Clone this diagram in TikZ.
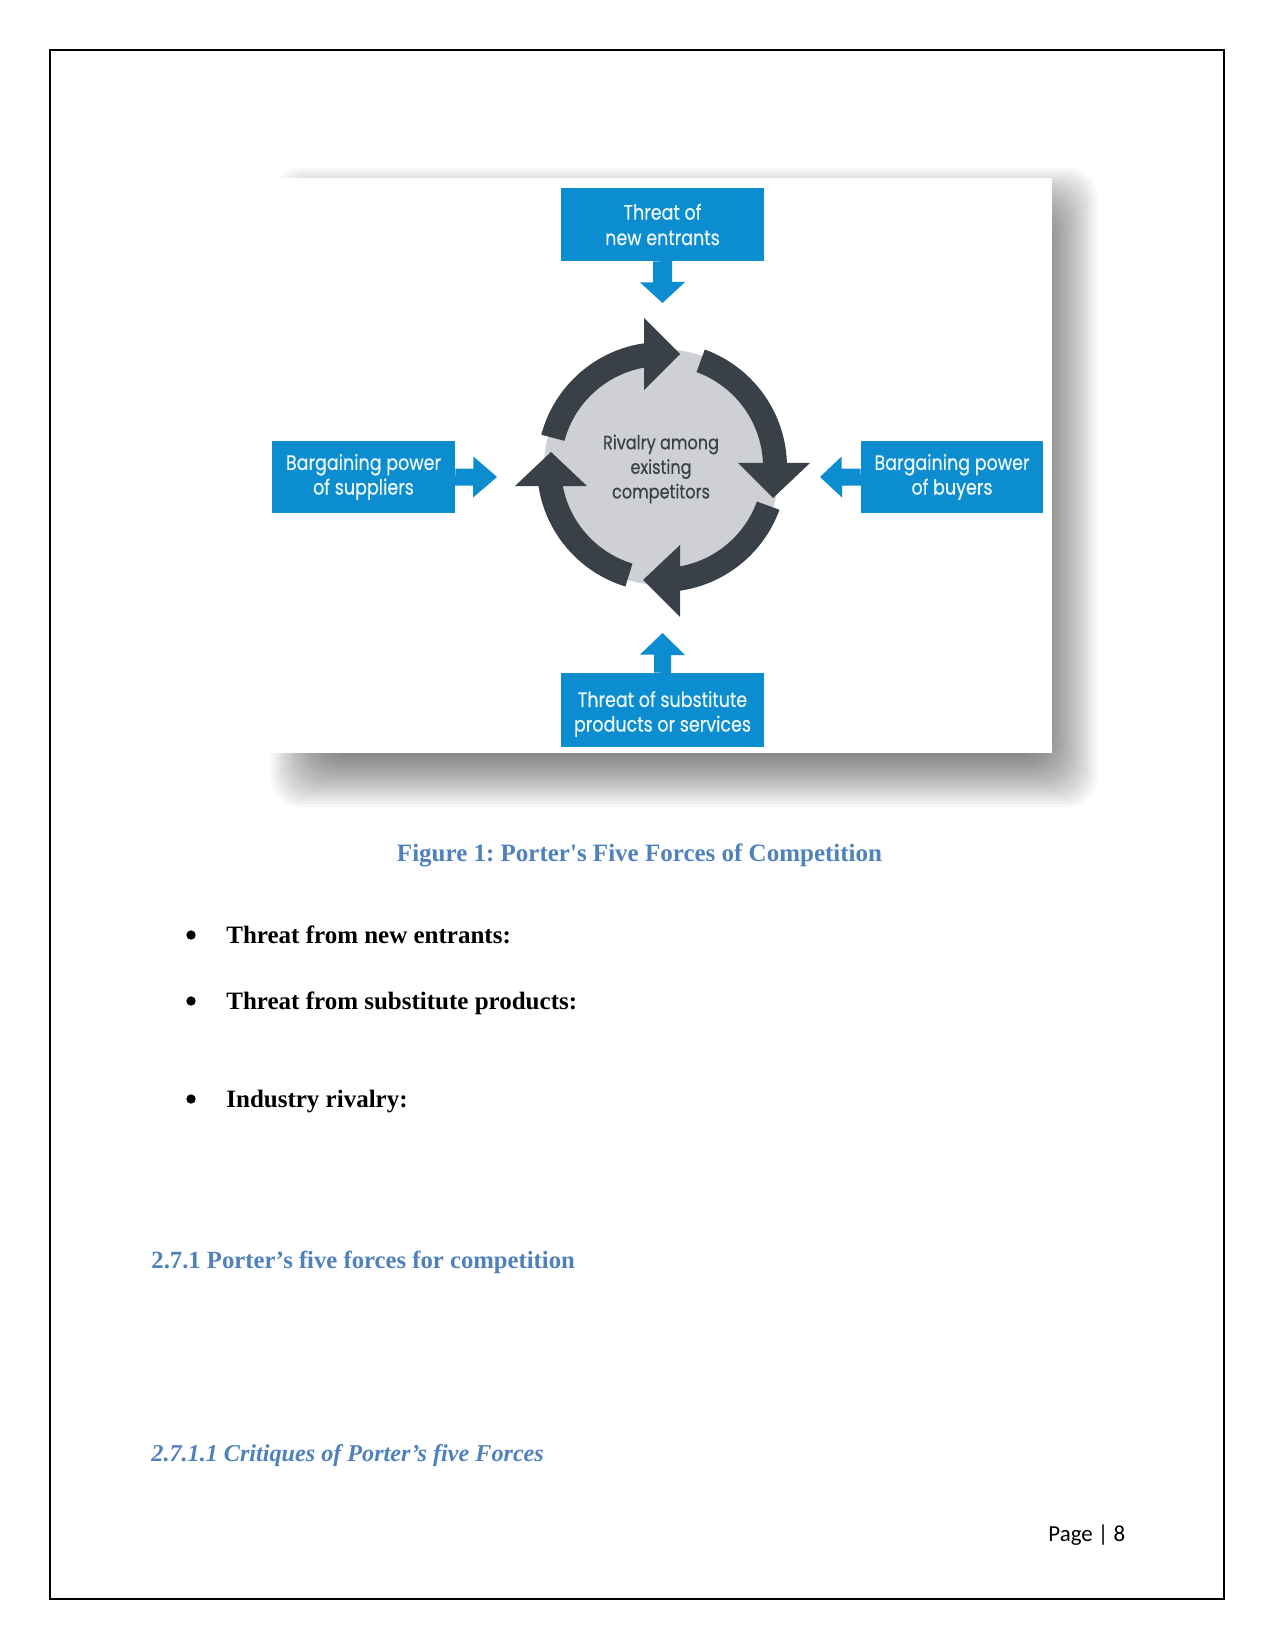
\documentclass[tikz,border=0pt]{standalone}
\usepackage{fontspec}
\setmainfont{Liberation Serif}
\newfontfamily\futura[FakeStretch=0.84,FakeBold=0.4]{Poppins}
\newfontfamily\calibri{Carlito}
\usetikzlibrary{calc}
\frenchspacing
\definecolor{pblue}{HTML}{0B8DCF}
\definecolor{ptext}{HTML}{EEF8FC}
\definecolor{ringdark}{HTML}{394047}
\definecolor{diskgray}{HTML}{CED0D3}
\definecolor{capblue}{HTML}{4F81BD}
\tikzset{
  forcebox/.style={fill=pblue, text=ptext, align=center, inner sep=0pt},
  boxfont/.style={font=\futura\fontsize{10}{11.8}\selectfont},
  boxlabel/.style={text=ptext, align=center, inner sep=0pt, font=\futura\fontsize{10}{11.8}\selectfont},
  blockarrow/.style={fill=pblue},
  ringarrow/.style={fill=ringdark},
  centertext/.style={text=ringdark, align=center, inner sep=0pt, font=\futura\fontsize{9.2}{11.8}\selectfont},
  captiontext/.style={text=capblue, font=\bfseries\fontsize{12}{14}\selectfont, inner sep=0pt, anchor=base},
  bullettext/.style={font=\bfseries\fontsize{12}{14}\selectfont, anchor=base west, inner sep=0pt},
  bulletdot/.style={circle, fill=black, minimum size=4.5pt, inner sep=0pt},
  headtext/.style={text=capblue, font=\bfseries\fontsize{11.85}{14}\selectfont, anchor=base west, inner sep=0pt},
  pagetext/.style={font=\calibri\fontsize{11}{13}\selectfont, anchor=base west, inner sep=0pt},
}
\begin{document}
\begin{tikzpicture}[x=0.48pt, y=-0.48pt]
\useasboundingbox (0,0) rectangle (1275,1650);
\fill[white] (0,0) rectangle (1275,1650);
% page border
\draw[line width=0.6pt] (50,50) rectangle (1224,1599);

% picture shadow
\foreach \e in {-27,-24,...,27} {
  \fill[black, opacity=0.03, rounded corners=14pt] ({298-\e},{195-\e}) rectangle ({1070+\e},{780+\e});
}
\fill[white] (262,178) rectangle (1052,753);

% rivalry ring
\begin{scope}[shift={(662,467)}, yscale=-1]
  \fill[diskgray] (0,0) circle[radius=118];
  % arrow 1 (upper left, head at top pointing right)
  \fill[ringarrow] (165:125) arc[start angle=165, end angle=97, radius=125] -- (97:101) arc[start angle=97, end angle=165, radius=101] -- cycle;
  \fill[ringarrow] (-18,149) -- (18,113) -- (-18,77) -- cycle;
  % arrow 2 (upper right, head at right pointing down)
  \fill[ringarrow] (70:125) arc[start angle=70, end angle=0, radius=125] -- (0:101) arc[start angle=0, end angle=70, radius=101] -- cycle;
  \fill[ringarrow] (76,4) -- (148,4) -- (111,-31) -- cycle;
  % arrow 3 (lower right, head at bottom pointing left)
  \fill[ringarrow] (-20:125) arc[start angle=-20, end angle=-83, radius=125] -- (-83:101) arc[start angle=-83, end angle=-20, radius=101] -- cycle;
  \fill[ringarrow] (18,-78) -- (18,-150) -- (-19,-113) -- cycle;
  % arrow 4 (lower left, head at left pointing up)
  \fill[ringarrow] (-107:125) arc[start angle=-107, end angle=-172, radius=125] -- (-172:101) arc[start angle=-172, end angle=-107, radius=101] -- cycle;
  \fill[ringarrow] (-147,-19) -- (-75,-19) -- (-111,15) -- cycle;
\end{scope}
\node[centertext] (rivalry) at (661,469) {Rivalry among\\existing\\competitors};

% force boxes
\node[forcebox, minimum width=97.44pt, minimum height=35.04pt, font=\futura\fontsize{10}{12.2}\selectfont] (newent) at (662.5,224.5) {Threat of\\new entrants};
\node[forcebox, minimum width=97.44pt, minimum height=35.52pt] (subst) at (662.5,710) {};
\node[boxlabel] (substtext) at (662.5,714) {Threat of substitute\\products or services};
\node[forcebox, boxfont, minimum width=87.84pt, minimum height=34.56pt] (supp) at (363.5,477) {Bargaining power\\of suppliers};
\node[forcebox, boxfont, minimum width=87.36pt, minimum height=34.56pt] (buyers) at (952,477) {Bargaining power\\of buyers};

% block arrows
\coordinate (tTip) at (662.5,303);
\coordinate (bTip) at (662.5,633);
\coordinate (lTip) at (497,477);
\coordinate (rTip) at (820,477);
\fill[blockarrow] ($(newent.south)+(-9.5,0)$) -- ++(0,21) -- ++(-13,0) -- (tTip) -- ++(22.5,-21) -- ++(-13,0) -- ++(0,-21) -- cycle;
\fill[blockarrow] ($(subst.north)+(-8.5,0)$) -- ++(0,-18) -- ++(-14,0) -- (bTip) -- ++(22.5,22) -- ++(-14,0) -- ++(0,18) -- cycle;
\fill[blockarrow] ($(supp.east)+(0,-8.5)$) -- ++(18,0) -- ++(0,-12) -- (lTip) -- ++(-24,20.5) -- ++(0,-12) -- ++(-18,0) -- cycle;
\fill[blockarrow] ($(buyers.west)+(0,-8.5)$) -- ++(-19,0) -- ++(0,-12) -- (rTip) -- ++(22,20.5) -- ++(0,-12) -- ++(19,0) -- cycle;

% caption
\node[captiontext] (caption) at (639.5,861) {Figure 1: Porter\textquotesingle s Five Forces of Competition};

% bullets
\node[bulletdot] (dot1) at (191,935) {};
\node[bullettext] (item1) at (226,943) {Threat from new entrants:};
\node[bulletdot] (dot2) at (191,1001) {};
\node[bullettext] (item2) at (226,1009) {Threat from substitute products:};
\node[bulletdot] (dot3) at (191,1099) {};
\node[bullettext] (item3) at (226,1107) {Industry rivalry:};

% headings
\node[headtext] (head1) at (151,1268) {2.7.1 Porter’s five forces for competition};
\node[headtext, font=\bfseries\itshape\fontsize{11.6}{14}\selectfont] (head2) at (151,1461) {2.7.1.1 Critiques of Porter’s five Forces};

% page number
\node[pagetext] (pagenum) at (1048,1541) {Page | 8};
\end{tikzpicture}
\end{document}
